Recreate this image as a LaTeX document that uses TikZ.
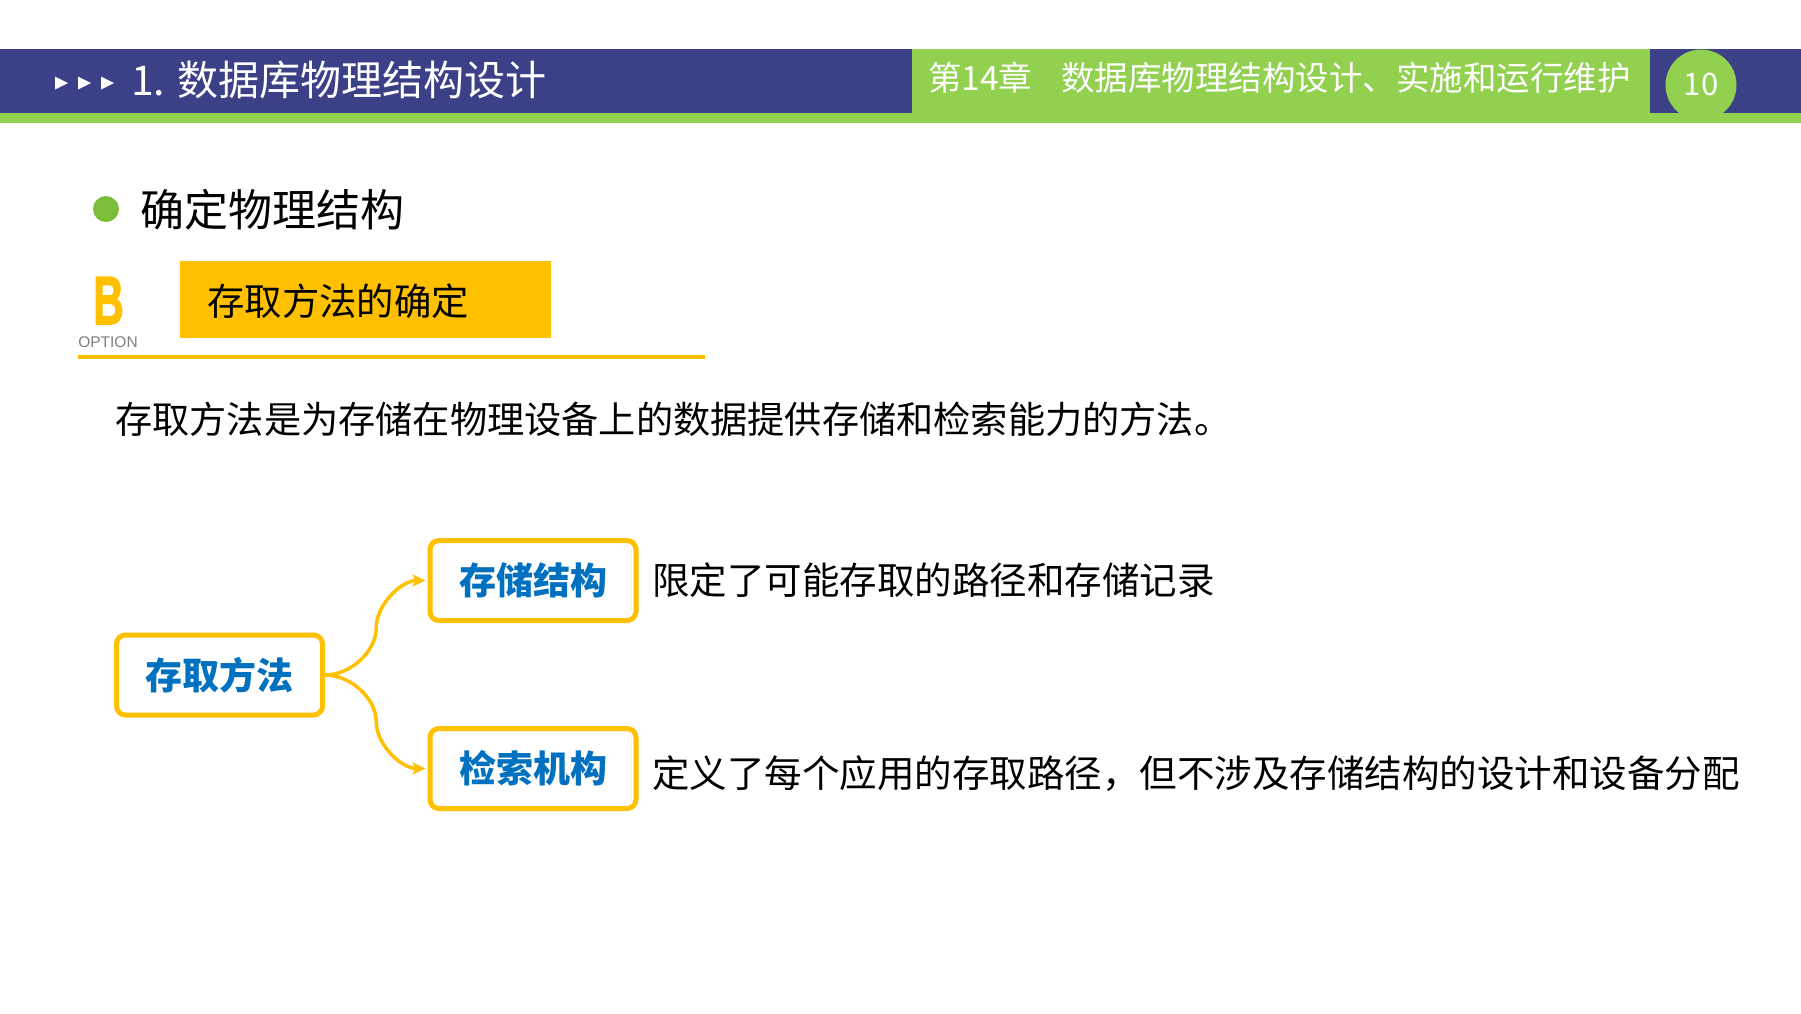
\documentclass[tikz,border=0pt]{standalone}
\usepackage{fontspec}
\newfontfamily\cjk{Noto Sans CJK SC}
\newfontfamily\lat{Liberation Sans}
\newfontfamily\latheavy{Liberation Sans Bold}[FakeBold=2.5]
\usetikzlibrary{arrows.meta,calc}
\definecolor{hdrblue}{RGB}{59,64,135}
\definecolor{hdrgreen}{RGB}{146,208,80}
\definecolor{dotgreen}{RGB}{122,190,58}
\definecolor{ylw}{RGB}{255,192,0}
\definecolor{txtblue}{RGB}{0,112,192}
\definecolor{optgray}{RGB}{128,128,128}
\begin{document}
\begin{tikzpicture}[x=1pt,y=-1pt,
  txt/.style={inner sep=0pt, anchor=base west, font=\cjk\fontsize{37.5pt}{45pt}\selectfont},
  hdr/.style={inner sep=0pt, anchor=base west, text=white},
  box/.style={draw=ylw, line width=5pt, rounded corners=9pt, minimum width=206pt, minimum height=80pt, inner sep=0pt, font=\cjk\bfseries\fontsize{37pt}{44pt}\selectfont, text=txtblue},
  conn/.style={draw=ylw, line width=3.5pt, shorten >=2pt, -{Stealth[length=13pt,width=12pt,inset=3pt]}}]
\useasboundingbox (0,0) rectangle (1801,1013);
\fill[white] (0,0) rectangle (1801,1013);
% header
\fill[hdrblue] (0,49) rectangle (1801,113);
\fill[hdrgreen] (0,113) rectangle (1801,123);
\fill[hdrgreen] (912,49) rectangle (1650,123);
\begin{scope}
  \clip (1650,49) rectangle (1801,123);
  \fill[hdrgreen] (1701,85) circle (35.5);
\end{scope}
\foreach \xx in {55,78,101}{
  \fill[white] (\xx,76.5) -- (\xx+13,83) -- (\xx,89.5) -- cycle;
}
\node[hdr, font=\cjk\fontsize{41pt}{48pt}\selectfont] (title) at (131,95) {1. 数据库物理结构设计};
\node[hdr, font=\cjk\fontsize{33.5pt}{40pt}\selectfont] (chap) at (928,90) {第14章\hspace{29pt}数据库物理结构设计、实施和运行维护};
\node[inner sep=0pt, text=white, font=\cjk\fontsize{31pt}{36pt}\selectfont] (page) at (1701,84) {10};
% heading
\fill[dotgreen] (106,209) circle (13);
\node[inner sep=0pt, anchor=base west, font=\cjk\fontsize{44pt}{52pt}\selectfont] (head) at (140,226) {确定物理结构};
% option B
\node[inner sep=0pt, anchor=base, text=ylw, font=\latheavy\fontsize{68pt}{70pt}\selectfont, xscale=0.62] (bb) at (108.5,324) {B};
\node[inner sep=0pt, anchor=base, text=optgray, font=\lat\fontsize{15.5pt}{18pt}\selectfont] (opt) at (108,347) {OPTION};
\fill[ylw] (180,261) rectangle (551,338);
\node[inner sep=0pt, anchor=base west, font=\cjk\fontsize{37.4pt}{45pt}\selectfont] (sub) at (207,315) {存取方法的确定};
\draw[ylw, line width=4pt] (78,357) -- (705,357);
% paragraph
\node[txt, font=\cjk\fontsize{37.2pt}{45pt}\selectfont] (para) at (115,433) {存取方法是为存储在物理设备上的数据提供存储和检索能力的方法。};
% diagram
\node[box] (m) at (219.5,675) {存取方法};
\node[box] (s) at (533,580.5) {存储结构};
\node[box] (r) at (533,768.5) {检索机构};
\coordinate (mS) at ($(m.east)!.5!(s.west)$);
\coordinate (qS1) at ($(m.east)!.25!(s.west)$);
\coordinate (qS3) at ($(m.east)!.75!(s.west)$);
\coordinate (mR) at ($(m.east)!.5!(r.west)$);
\coordinate (qR1) at ($(m.east)!.25!(r.west)$);
\coordinate (qR3) at ($(m.east)!.75!(r.west)$);
\draw[conn] (m.east) .. controls (qS1 |- m.east) and (mS |- qS1) .. (mS) .. controls (mS |- qS3) and (qS3 |- s.west) .. (s.west);
\draw[conn] (m.east) .. controls (qR1 |- m.east) and (mR |- qR1) .. (mR) .. controls (mR |- qR3) and (qR3 |- r.west) .. (r.west);
\node[txt] (t1) at (652,594) {限定了可能存取的路径和存储记录};
\node[txt] (t2) at (652,787) {定义了每个应用的存取路径，但不涉及存储结构的设计和设备分配};
\end{tikzpicture}
\end{document}
